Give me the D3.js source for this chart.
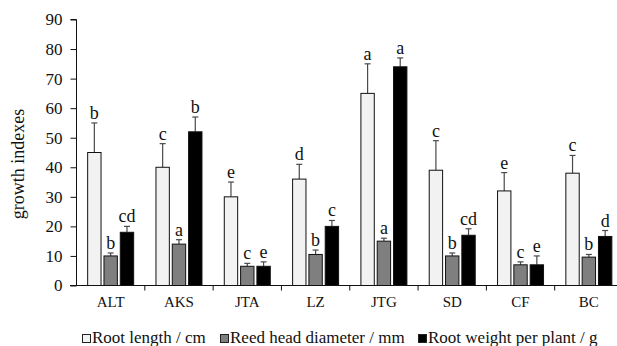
<!DOCTYPE html>
<html>
<head>
<meta charset="utf-8">
<script src="https://cdn.jsdelivr.net/npm/d3@7"></script>
<style>
  body { margin: 0; background: #fff; }
  svg text { font-family: "Liberation Serif", "Times New Roman", serif; }
</style>
</head>
<body>
<div id="chart"></div>
<script>
var sites = ["ALT", "AKS", "JTA", "LZ", "JTG", "SD", "CF", "BC"];
var seriesNames = ["Root length / cm", "Reed head diameter / mm", "Root weight per plant / g"];
var seriesColors = ["#f2f2f2", "#7f7f7f", "#000000"];

var rootLength    = [45, 40, 30, 36, 65, 39, 32, 38];
var rootLengthErr = [10, 8, 5, 5, 10, 10, 6.2, 6];
var rootLengthSig = ["b", "c", "e", "d", "a", "c", "e", "c"];

var headDiam    = [10, 14, 6.5, 10.5, 15, 10, 7, 9.6];
var headDiamErr = [1, 1.5, 1, 1.5, 1, 1, 1, 0.9];
var headDiamSig = ["b", "a", "c", "b", "a", "b", "c", "b"];

var rootWeight    = [18, 52, 6.5, 20, 74, 17, 7, 16.6];
var rootWeightErr = [2, 5, 1.5, 2, 3, 2.2, 3, 2];
var rootWeightSig = ["cd", "b", "e", "c", "a", "cd", "e", "d"];

var yTicks = [0, 10, 20, 30, 40, 50, 60, 70, 80, 90];

var series = [
  {vals: rootLength, err: rootLengthErr, sig: rootLengthSig},
  {vals: headDiam, err: headDiamErr, sig: headDiamSig},
  {vals: rootWeight, err: rootWeightErr, sig: rootWeightSig}
];

var FONT = '"Liberation Serif", "Times New Roman", serif';
var W = 617, H = 346;
var svg = d3.select("#chart").append("svg")
    .attr("width", W)
    .attr("height", H);

var x = d3.scaleBand().domain(sites).range([76.5, 623]);
var y = d3.scaleLinear().domain([0, 90]).range([285.5, 19.5]);
var inner = d3.scaleBand().domain([0, 1, 2]).range([0, 46]).paddingInner(0.18);

// bars
series.forEach(function(s, i) {
  var g = svg.append("g");
  var off = (x.bandwidth() - 46) / 2;
  sites.forEach(function(site, j) {
    var bx = x(site) + off + inner(i);
    var cx = bx + inner.bandwidth() / 2;
    var top = s.vals[j] + s.err[j];
    // error bar
    g.append("line")
        .attr("x1", cx).attr("x2", cx)
        .attr("y1", y(s.vals[j])).attr("y2", y(top))
        .attr("stroke", "#4a4a4a").attr("stroke-width", 1.2);
    g.append("line")
        .attr("x1", cx - 3).attr("x2", cx + 3)
        .attr("y1", y(top)).attr("y2", y(top))
        .attr("stroke", "#4a4a4a").attr("stroke-width", 1.2);
    g.append("rect")
        .attr("x", bx)
        .attr("y", y(s.vals[j]))
        .attr("width", inner.bandwidth())
        .attr("height", y(0) - y(s.vals[j]))
        .attr("fill", seriesColors[i])
        .attr("stroke", "#111")
        .attr("stroke-width", 1);
    g.append("text")
        .attr("x", cx)
        .attr("y", y(top) - 4)
        .attr("text-anchor", "middle")
        .style("font-family", FONT)
        .style("font-size", "18px")
        .attr("fill", "#111")
        .text(s.sig[j]);
  });
});

// y axis
var yAxis = svg.append("g")
    .attr("transform", "translate(76.5,0)")
    .call(d3.axisLeft(y).tickValues(yTicks).tickSize(6).tickPadding(8));
yAxis.selectAll("text")
    .style("font-family", FONT)
    .style("font-size", "17px")
    .attr("fill", "#111");
yAxis.selectAll("line").attr("stroke", "#111");
yAxis.select(".domain").attr("stroke", "#111").attr("d", "M-6," + y(90) + "H0V" + y(0) + "H-6");

// x axis
var xAxis = svg.append("g")
    .attr("transform", "translate(0," + y(0) + ")");
xAxis.append("line")
    .attr("x1", 70).attr("x2", 623)
    .attr("stroke", "#111").attr("stroke-width", 1.2);
xAxis.selectAll(".tk").data(sites.slice(1)).enter().append("line")
    .attr("x1", function(d) { return x(d); })
    .attr("x2", function(d) { return x(d); })
    .attr("y1", 0).attr("y2", 5)
    .attr("stroke", "#111");
xAxis.selectAll(".lbl").data(sites).enter().append("text")
    .attr("x", function(d) { return x(d) + x.bandwidth() / 2; })
    .attr("y", 21)
    .attr("text-anchor", "middle")
    .style("font-family", FONT)
    .style("font-size", "15px")
    .attr("fill", "#111")
    .text(function(d) { return d; });

// y title
svg.append("text")
    .attr("transform", "translate(24,164) rotate(-90)")
    .attr("text-anchor", "middle")
    .style("font-family", FONT)
    .style("font-size", "18px")
    .attr("fill", "#111")
    .text("growth indexes");

// legend
var legX = [82, 220, 418];
var leg = svg.append("g");
seriesNames.forEach(function(name, i) {
  leg.append("rect")
      .attr("x", legX[i] + 0.5).attr("y", 334.5)
      .attr("width", 8).attr("height", 8)
      .attr("fill", seriesColors[i])
      .attr("stroke", "#222");
  leg.append("text")
      .attr("x", legX[i] + 10)
      .attr("y", 343)
      .style("font-family", FONT)
      .style("font-size", "17px")
      .attr("fill", "#111")
      .text(name);
});
</script>
</body>
</html>
